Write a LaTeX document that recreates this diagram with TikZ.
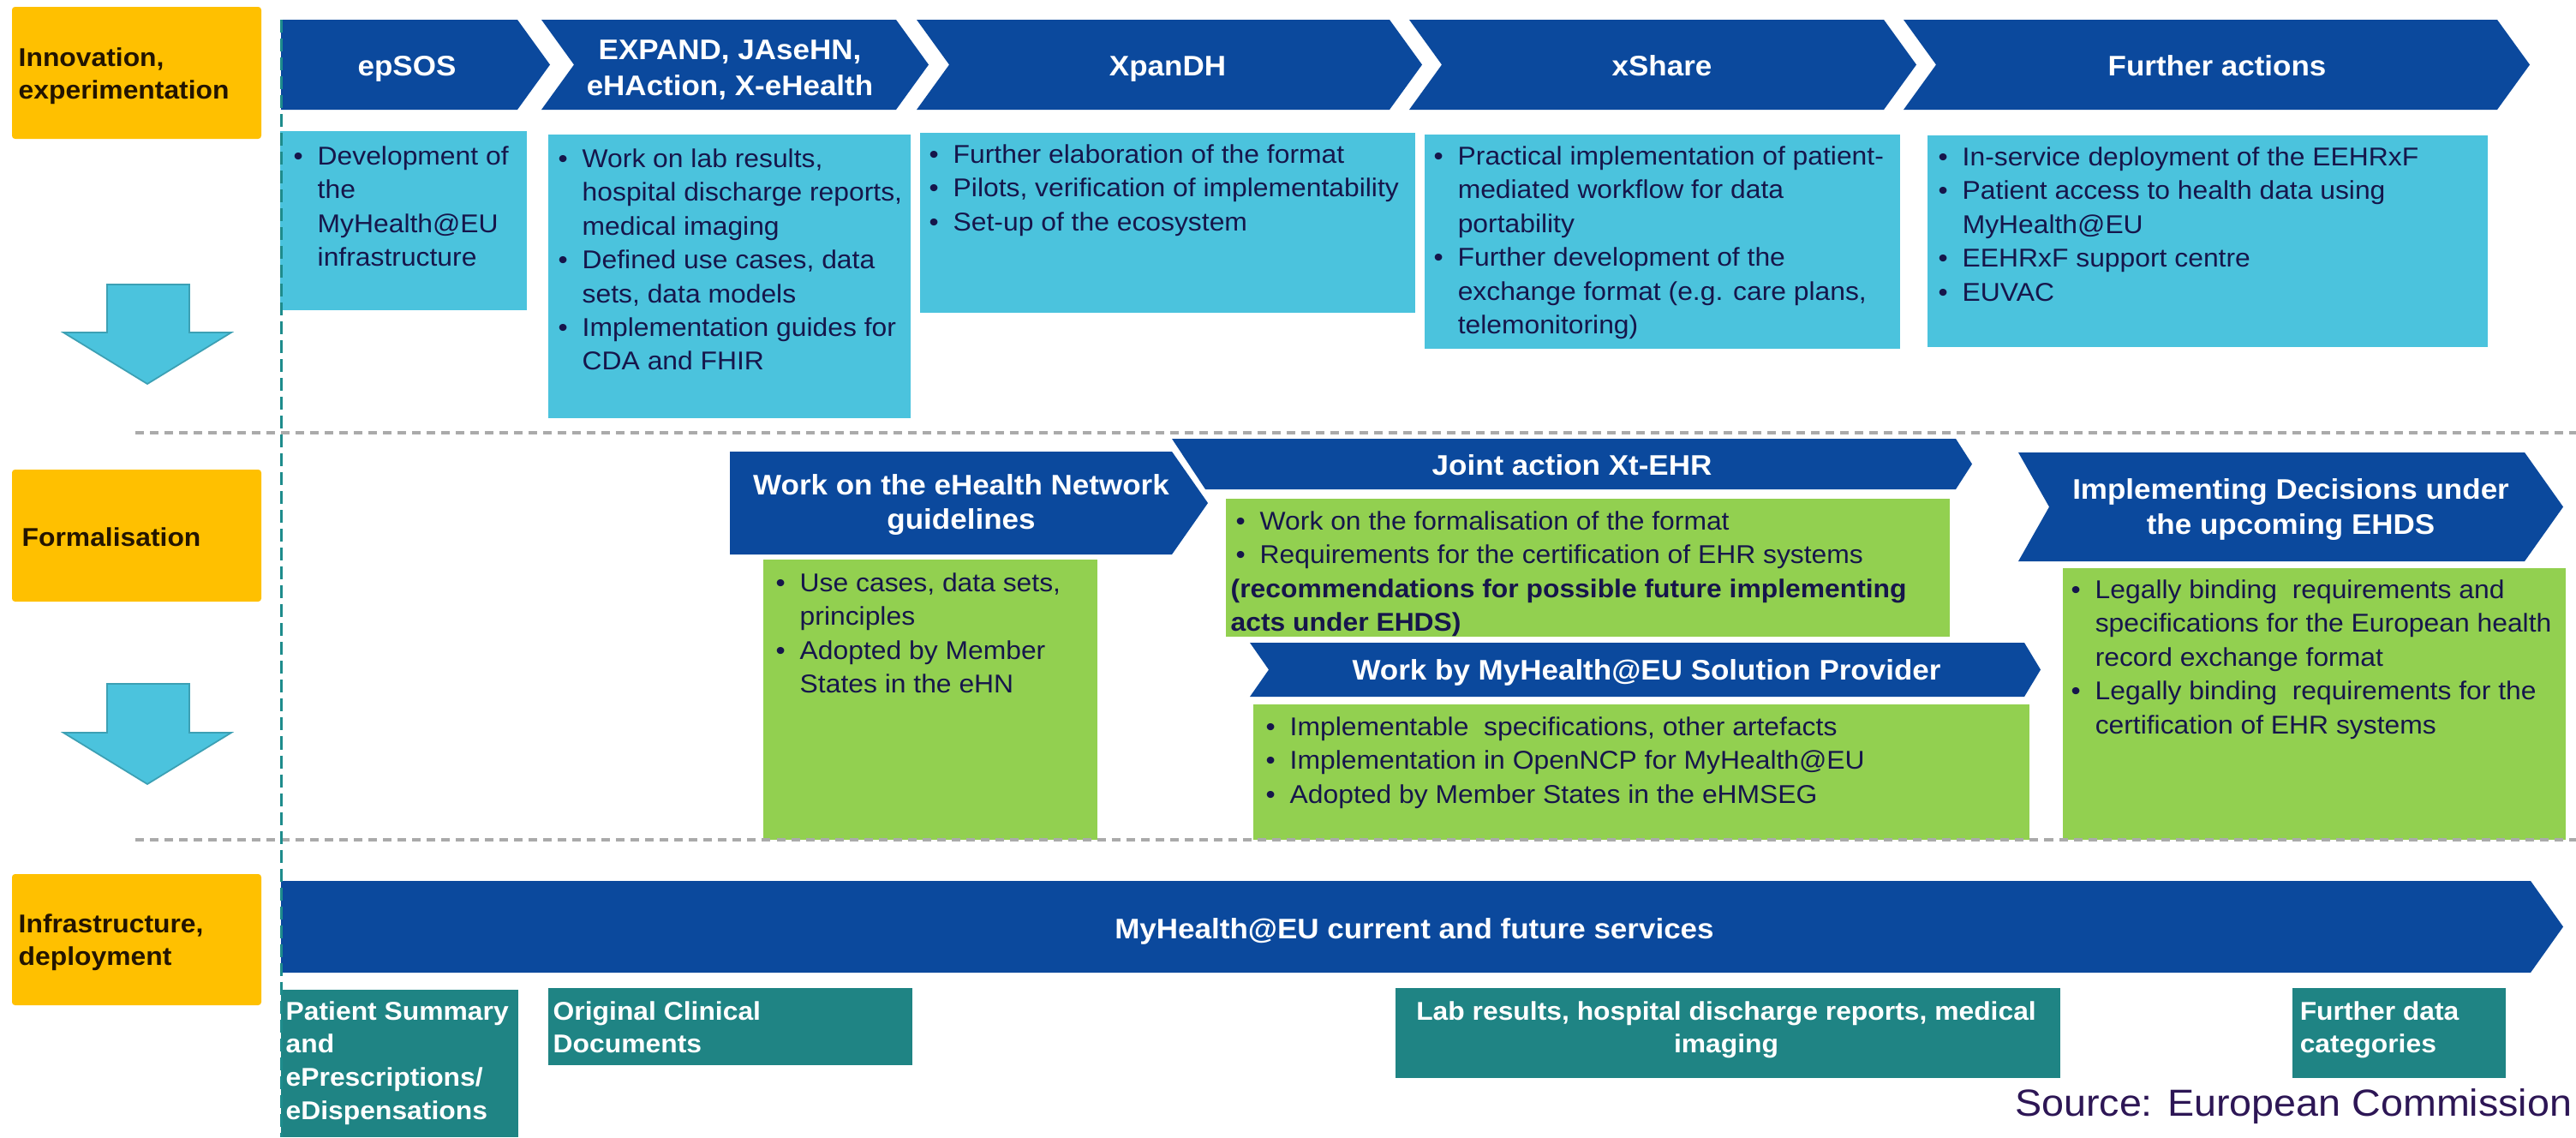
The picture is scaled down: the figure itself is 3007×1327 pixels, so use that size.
\documentclass[tikz,border=0pt]{standalone}
\usepackage{fontspec}
\setmainfont{Liberation Sans}[FakeStretch=1.06]
\definecolor{chevblue}{RGB}{11,73,157}
\definecolor{cyanbox}{RGB}{75,195,221}
\definecolor{greenbox}{RGB}{146,208,80}
\definecolor{yellowbox}{RGB}{255,192,0}
\definecolor{tealbox}{RGB}{31,132,132}
\definecolor{navytext}{RGB}{22,22,75}
\definecolor{labtext}{RGB}{35,20,0}
\definecolor{tealline}{RGB}{30,140,140}
\definecolor{grayline}{RGB}{170,170,170}
\definecolor{sourcecol}{RGB}{45,22,85}
\definecolor{arrowedge}{RGB}{60,160,180}
\newcommand{\fbody}{\fontsize{8.54pt}{11.2pt}\selectfont}
\newcommand{\ftitle}{\fontsize{9.39pt}{11.66pt}\selectfont\bfseries}
\newcommand{\ftitlewide}{\fontsize{9.39pt}{11.95pt}\selectfont\bfseries}
\newcommand{\flab}{\fontsize{8.54pt}{10.95pt}\selectfont\bfseries}
\newcommand{\fsrc}{\fontsize{12.52pt}{15pt}\selectfont}
\newlength{\bind}\setlength{\bind}{0.28cm}
\newcommand{\bu}[1]{\makebox[\bind][l]{\textbullet}#1}
\newcommand{\ct}[1]{\hspace*{\bind}#1}
\tikzset{
  chev/.style={fill=chevblue},
  cyanfill/.style={fill=cyanbox},
  greenfill/.style={fill=greenbox},
  tealfill/.style={fill=tealbox},
  yellowfill/.style={fill=yellowbox, rounded corners=1pt},
  downarrow/.style={fill=cyanbox, draw=arrowedge, line width=0.5pt},
  bodytext/.style={anchor=north west, inner sep=0pt, align=left, font=\fbody, text=navytext},
  ttl/.style={inner sep=0pt, align=center, font=\ftitle, text=white},
  labtxt/.style={anchor=north west, inner sep=0pt, align=left, font=\flab, text=labtext},
  tealtxt/.style={inner sep=0pt, font=\flab, text=white},
  hdash/.style={draw=grayline, line width=0.04cm, dash pattern=on 0.10cm off 0.07cm},
  vdash/.style={draw=tealline, line width=0.03cm, dash pattern=on 0.15cm off 0.07cm}
}
\begin{document}
\begin{tikzpicture}[x=0.01cm, y=-0.01cm]
\useasboundingbox (0,0) rectangle (3007,1327);
\fill[white] (0,0) rectangle (3007,1327);

% ---------- row labels ----------
\fill[yellowfill] (14,8) rectangle (305,162);
\fill[yellowfill] (14,548) rectangle (305,702);
\fill[yellowfill] (14,1020) rectangle (305,1173);
\node[labtxt] (labInno) at (21,55) {Innovation,\\experimentation};
\node[labtxt, anchor=base west] (labForm) at (25,637) {Formalisation};
\node[labtxt] (labInfra) at (21,1066) {Infrastructure,\\deployment};

% ---------- down arrows ----------
\draw[downarrow] (125,332) -- (221,332) -- (221,388) -- (270,388) -- (172,448) -- (74,388) -- (125,388) -- cycle;
\draw[downarrow] (125,798) -- (221,798) -- (221,855) -- (270,855) -- (172,915) -- (74,855) -- (125,855) -- cycle;

% ---------- innovation chevrons ----------
\fill[chev] (328,23) -- (604,23) -- (642,75.5) -- (604,128) -- (328,128) -- cycle;
\fill[chev] (632,23) -- (1046,23) -- (1084,75.5) -- (1046,128) -- (632,128) -- (670,75.5) -- cycle;
\fill[chev] (1070,23) -- (1622,23) -- (1660,75.5) -- (1622,128) -- (1070,128) -- (1108,75.5) -- cycle;
\fill[chev] (1645,23) -- (2199,23) -- (2237,75.5) -- (2199,128) -- (1645,128) -- (1683,75.5) -- cycle;
\fill[chev] (2222,23) -- (2915,23) -- (2953,75.5) -- (2915,128) -- (2222,128) -- (2260,75.5) -- cycle;
\node[ttl, anchor=base] (tEpsos) at (475,88) {epSOS};
\node[ttl, anchor=north, font=\ftitlewide] (tExpand) at (852,46) {EXPAND, JAseHN,\\eHAction, X-eHealth};
\node[ttl, anchor=base] (tXpandh) at (1363,88) {XpanDH};
\node[ttl, anchor=base] (tXshare) at (1940,88) {xShare};
\node[ttl, anchor=base] (tFurther) at (2588,88) {Further actions};

% ---------- innovation content ----------
\fill[cyanfill] (327,153) rectangle (615,362);
\fill[cyanfill] (640,157) rectangle (1063,488);
\fill[cyanfill] (1074,155) rectangle (1652,365);
\fill[cyanfill] (1663,157) rectangle (2218,407);
\fill[cyanfill] (2250,158) rectangle (2904,405);
\node[bodytext] (bEpsos) at (342,170) {\bu{Development of}\\\ct{the}\\\ct{MyHealth@EU}\\\ct{infrastructure}};
\node[bodytext] (bExpand) at (651,173) {\bu{Work on lab results,}\\\ct{hospital discharge reports,}\\\ct{medical imaging}\\\bu{Defined use cases, data}\\\ct{sets, data models}\\\bu{Implementation guides for}\\\ct{CDA and FHIR}};
\node[bodytext] (bXpandh) at (1084,168) {\bu{Further elaboration of the format}\\\bu{Pilots, verification of implementability}\\\bu{Set-up of the ecosystem}};
\node[bodytext] (bXshare) at (1673,170) {\bu{Practical implementation of patient-}\\\ct{mediated workflow for data}\\\ct{portability}\\\bu{Further development of the}\\\ct{exchange format (e.g. care plans,}\\\ct{telemonitoring)}};
\node[bodytext] (bFurther) at (2262,171) {\bu{In-service deployment of the EEHRxF}\\\bu{Patient access to health data using}\\\ct{MyHealth@EU}\\\bu{EEHRxF support centre}\\\bu{EUVAC}};

% ---------- formalisation ----------
\fill[chev] (852,527) -- (1368,527) -- (1410,587) -- (1368,647) -- (852,647) -- cycle;
\fill[chev] (1368,512) -- (2283,512) -- (2302,541.5) -- (2283,571) -- (1407,571) -- cycle;
\fill[chev] (1459,750) -- (2363,750) -- (2382,781.5) -- (2363,813) -- (1459,813) -- (1481,781.5) -- cycle;
\fill[chev] (2356,528) -- (2947,528) -- (2992,591.5) -- (2947,655) -- (2356,655) -- (2392,591.5) -- cycle;
\node[ttl, anchor=north, font={\fontsize{9.39pt}{11.38pt}\selectfont\bfseries}] (tEhn) at (1122,553) {Work on the eHealth Network\\guidelines};
\node[ttl, anchor=base] (tJoint) at (1835,554) {Joint action Xt-EHR};
\node[ttl, anchor=base] (tSolution) at (1922,793) {Work by MyHealth@EU Solution Provider};
\node[ttl, anchor=north] (tImpl) at (2674,558) {Implementing Decisions under\\the upcoming EHDS};

\fill[greenfill] (891,653) rectangle (1281,980);
\fill[greenfill] (1431,582) rectangle (2276,743);
\fill[greenfill] (1463,822) rectangle (2369,980);
\fill[greenfill] (2408,663) rectangle (2995,980);
\node[bodytext] (bEhn) at (905,668) {\bu{Use cases, data sets,}\\\ct{principles}\\\bu{Adopted by Member}\\\ct{States in the eHN}};
\node[bodytext] (bJoint) at (1442,596) {\bu{Work on the formalisation of the format}\\\bu{Requirements for the certification of EHR systems}\\\hspace*{-0.06cm}\textbf{(recommendations for possible future implementing}\\\hspace*{-0.06cm}\textbf{acts under EHDS)}};
\node[bodytext] (bSolution) at (1477,836) {\bu{Implementable\ \ specifications, other artefacts}\\\bu{Implementation in OpenNCP for MyHealth@EU}\\\bu{Adopted by Member States in the eHMSEG}};
\node[bodytext] (bImpl) at (2417,676) {\bu{Legally binding\ \ requirements and}\\\ct{specifications for the European health}\\\ct{record exchange format}\\\bu{Legally binding\ \ requirements for the}\\\ct{certification of EHR systems}};

% ---------- infrastructure ----------
\fill[chev] (328,1028) -- (2954,1028) -- (2992,1081.5) -- (2954,1135) -- (328,1135) -- cycle;
\node[ttl, anchor=base] (tServices) at (1651,1095) {MyHealth@EU current and future services};
\fill[tealfill] (328,1155) rectangle (605,1327);
\fill[tealfill] (640,1153) rectangle (1065,1243);
\fill[tealfill] (1629,1153) rectangle (2405,1258);
\fill[tealfill] (2676,1153) rectangle (2925,1258);
\node[tealtxt, anchor=north west, align=left] (dPs) at (333,1168) {Patient Summary\\and\\ePrescriptions/\\eDispensations};
\node[tealtxt, anchor=north west, align=left] (dOcd) at (645,1168) {Original Clinical\\Documents};
\node[tealtxt, anchor=north, align=center] (dLab) at (2015,1168) {Lab results, hospital discharge reports, medical\\imaging};
\node[tealtxt, anchor=north west, align=left] (dFdc) at (2684,1168) {Further data\\categories};

\node[anchor=base east, inner sep=0pt, font=\fsrc, text=sourcecol] (source) at (3003,1302) {Source: European Commission};

% ---------- dashed guides ----------
\draw[hdash] (158,505) -- (3007,505);
\draw[hdash] (158,980) -- (3007,980);
\draw[vdash] (328,23) -- (328,1327);
\end{tikzpicture}
\end{document}
